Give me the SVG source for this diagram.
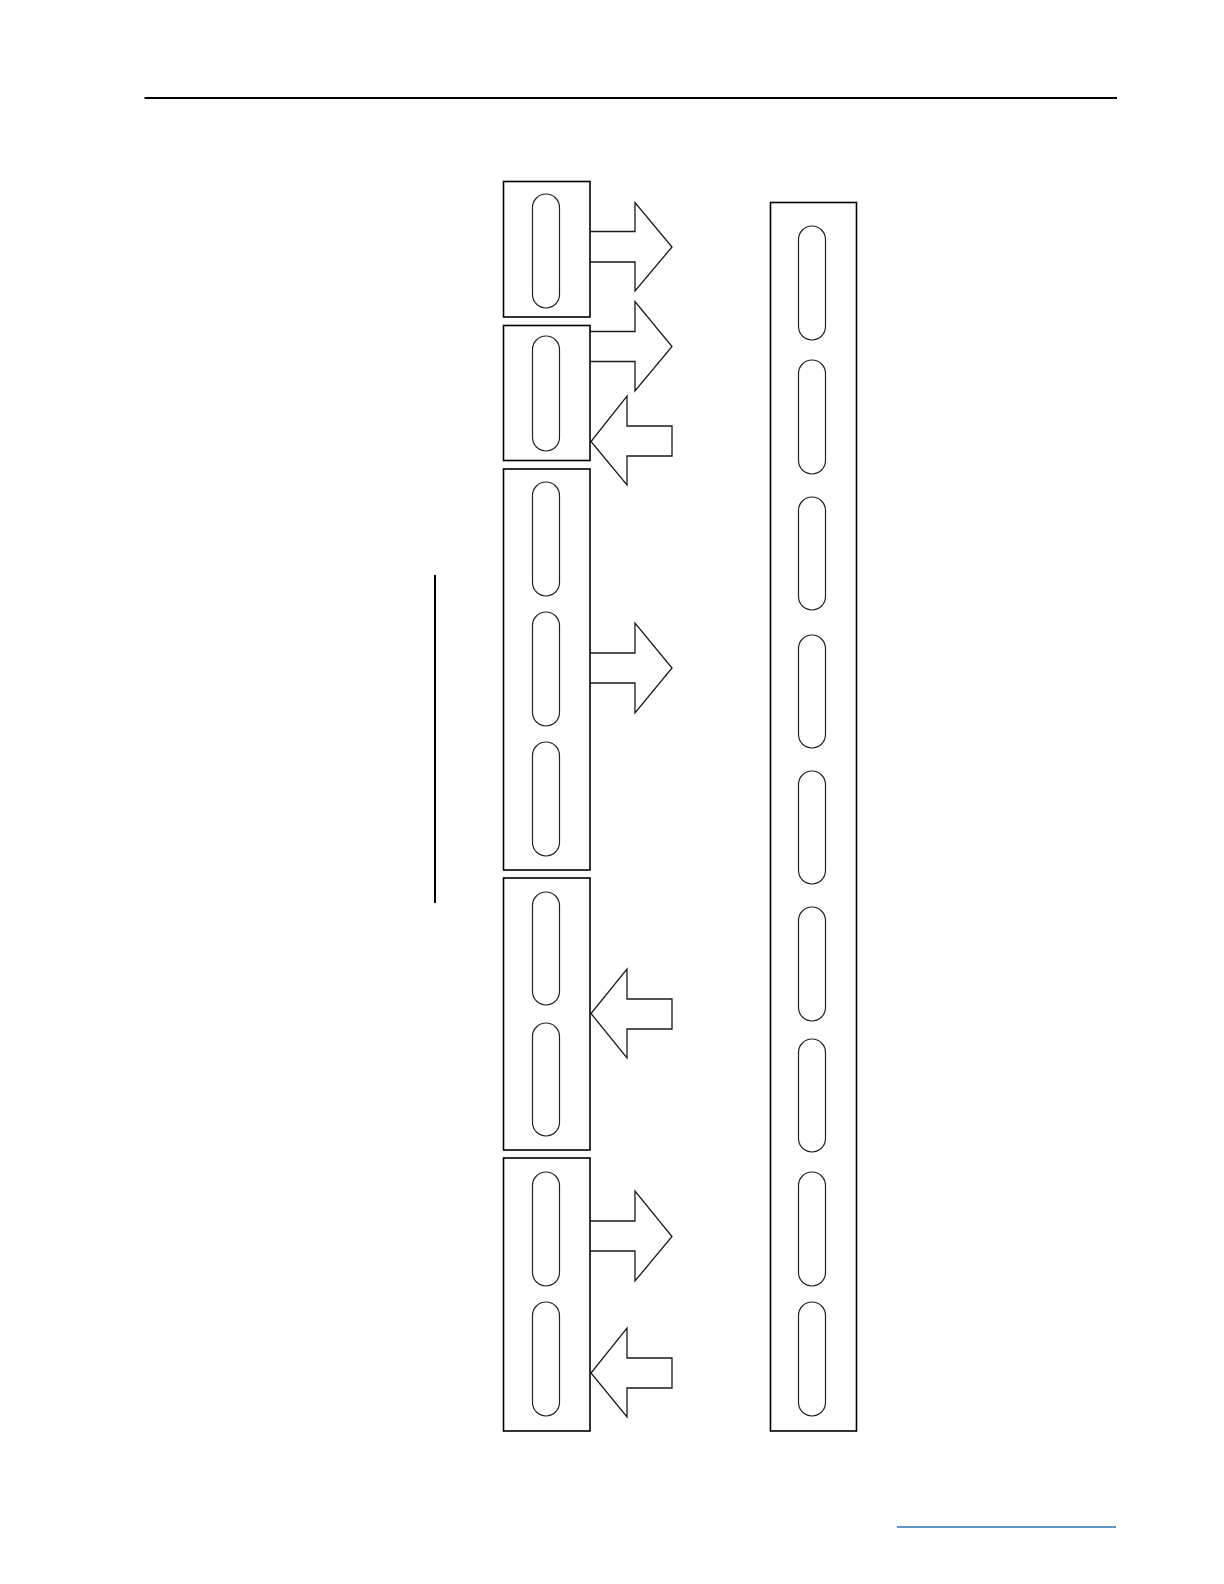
<svg xmlns="http://www.w3.org/2000/svg" width="1224" height="1584" viewBox="0 0 1224 1584">
<style>
.box{fill:#fff;stroke:#000;stroke-width:1.6}
.slot{fill:#fff;stroke:#222;stroke-width:1.2}
.arr{fill:#fff;stroke:#1a1a1a;stroke-width:1.3;stroke-linejoin:miter}
</style>
<rect width="1224" height="1584" fill="#fff"/>
<line x1="144.5" y1="98" x2="1117" y2="98" stroke="#000" stroke-width="2.2"/>
<line x1="435" y1="575" x2="435" y2="903" stroke="#000" stroke-width="2"/>
<line x1="897" y1="1527" x2="1116" y2="1527" stroke="#2e74b5" stroke-width="1.5"/>

<g id="connectors">
<polyline class="arr" points="590,231.5 635,231.5 635,202.5 672,247 635,291 635,262 590,262"/>
<polyline class="arr" points="590,331.5 635,331.5 635,301.5 672,346.5 635,391 635,361.5 590,361.5"/>
<polygon class="arr" points="672,426 627,426 627,396 591,441.5 627,485 627,456 672,456"/>
<polyline class="arr" points="590,653 635,653 635,623 672,668 635,713 635,683 590,683"/>
<polygon class="arr" points="672,999 627,999 627,969 591,1013.5 627,1058 627,1029 672,1029"/>
<polyline class="arr" points="590,1221 635,1221 635,1191 672,1236.5 635,1281 635,1251 590,1251"/>
<polygon class="arr" points="672,1358 627,1358 627,1328 591,1373 627,1417 627,1388 672,1388"/>
</g>

<g id="box1">
<rect class="box" x="503.5" y="181.5" width="86.5" height="135.5"/>
<rect class="slot" x="532.5" y="194" width="27" height="114" rx="13.5"/>
</g>
<g id="box2">
<rect class="box" x="503.5" y="325.5" width="86.5" height="135"/>
<rect class="slot" x="532.5" y="336" width="27" height="115" rx="13.5"/>
</g>
<g id="box3">
<rect class="box" x="503.5" y="469" width="86.5" height="401"/>
<rect class="slot" x="532.5" y="482" width="27" height="114" rx="13.5"/>
<rect class="slot" x="532.5" y="612" width="27" height="114" rx="13.5"/>
<rect class="slot" x="532.5" y="742" width="27" height="114" rx="13.5"/>
</g>
<g id="box4">
<rect class="box" x="503.5" y="878" width="86.5" height="272"/>
<rect class="slot" x="532.5" y="892" width="27" height="113" rx="13.5"/>
<rect class="slot" x="532.5" y="1023" width="27" height="113" rx="13.5"/>
</g>
<g id="box5">
<rect class="box" x="503.5" y="1158" width="86.5" height="273"/>
<rect class="slot" x="532.5" y="1172" width="27" height="114" rx="13.5"/>
<rect class="slot" x="532.5" y="1302" width="27" height="114" rx="13.5"/>
</g>
<g id="rail">
<rect class="box" x="770.5" y="202.5" width="86" height="1228.5"/>
<rect class="slot" x="798.5" y="226" width="27" height="114" rx="13.5"/>
<rect class="slot" x="798.5" y="360" width="27" height="114" rx="13.5"/>
<rect class="slot" x="798.5" y="497" width="27" height="113" rx="13.5"/>
<rect class="slot" x="798.5" y="635" width="27" height="113" rx="13.5"/>
<rect class="slot" x="798.5" y="771" width="27" height="113" rx="13.5"/>
<rect class="slot" x="798.5" y="907" width="27" height="114" rx="13.5"/>
<rect class="slot" x="798.5" y="1039" width="27" height="113" rx="13.5"/>
<rect class="slot" x="798.5" y="1172" width="27" height="114" rx="13.5"/>
<rect class="slot" x="798.5" y="1302" width="27" height="114" rx="13.5"/>
</g>
</svg>
